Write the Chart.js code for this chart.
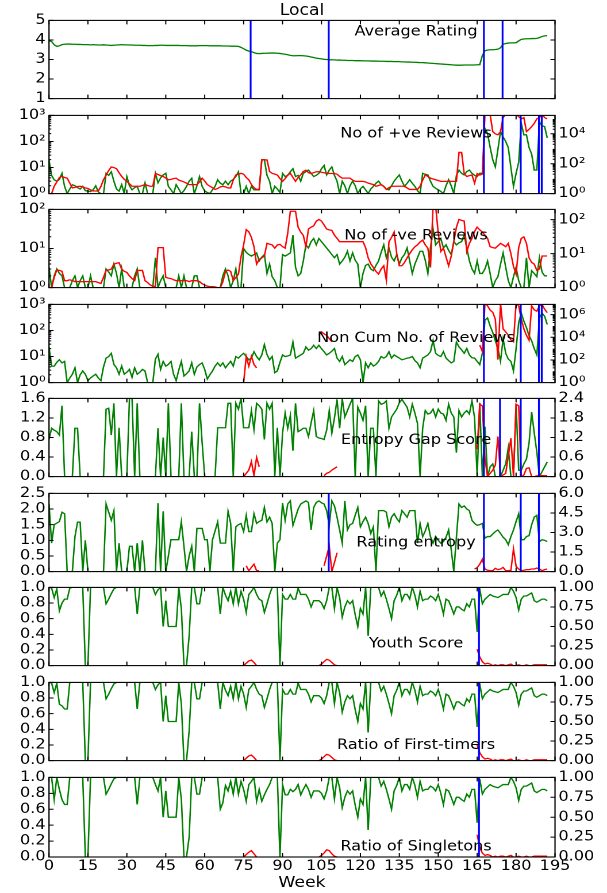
<!DOCTYPE html>
<html>
<head>
<meta charset="utf-8">
<script src="https://cdn.jsdelivr.net/npm/chart.js@4.4.1/dist/chart.umd.min.js"></script>
<style>
  body { margin: 0; background: #fff; width: 607px; height: 893px; overflow: hidden; }
  #fig { position: absolute; left: 0; top: 0; width: 528px; height: 893px;
         transform: scaleX(1.149621); transform-origin: 0 0; font-family: "DejaVu Sans"; }
  #fig canvas { position: absolute; left: 0; }
  #title { position: absolute; left: 42.6px; width: 440.2px; top: 3px; text-align: center;
           font-size: 15px; line-height: 15px; color: #000; }
</style>
</head>
<body>
<div id="fig"><div id="title">Local</div></div>
<script>
// ---- data (one value per week, 0..192) ----
const weeks = Array.from({length: 193}, (_, i) => i);
const weekTicks = [0, 15, 30, 45, 60, 75, 90, 105, 120, 135, 150, 165, 180, 195];

const avgRating = [
  3.96, 3.92, 3.75, 3.67, 3.70, 3.76, 3.78, 3.79, 3.79, 3.78,
  3.78, 3.77, 3.77, 3.76, 3.76, 3.76, 3.75, 3.76, 3.75, 3.74,
  3.74, 3.75, 3.74, 3.73, 3.72, 3.73, 3.74, 3.75, 3.76, 3.75,
  3.75, 3.74, 3.74, 3.73, 3.73, 3.73, 3.72, 3.72, 3.71, 3.71,
  3.71, 3.72, 3.72, 3.73, 3.73, 3.72, 3.72, 3.72, 3.72, 3.72,
  3.72, 3.71, 3.71, 3.71, 3.70, 3.70, 3.70, 3.70, 3.71, 3.71,
  3.71, 3.71, 3.70, 3.70, 3.70, 3.70, 3.70, 3.69, 3.69, 3.69,
  3.68, 3.68, 3.68, 3.67, 3.62, 3.55, 3.48, 3.43, 3.40, 3.35,
  3.31, 3.30, 3.31, 3.32, 3.32, 3.33, 3.33, 3.33, 3.32, 3.31,
  3.29, 3.27, 3.24, 3.21, 3.19, 3.19, 3.20, 3.20, 3.19, 3.18,
  3.16, 3.13, 3.10, 3.07, 3.05, 3.03, 3.01, 3.00, 2.99, 2.98,
  2.98, 2.97, 2.97, 2.96, 2.96, 2.95, 2.95, 2.95, 2.94, 2.94,
  2.94, 2.93, 2.93, 2.93, 2.92, 2.92, 2.92, 2.91, 2.91, 2.91,
  2.90, 2.90, 2.90, 2.89, 2.89, 2.89, 2.88, 2.88, 2.87, 2.87,
  2.86, 2.86, 2.85, 2.84, 2.84, 2.83, 2.82, 2.81, 2.80, 2.79,
  2.78, 2.77, 2.76, 2.75, 2.74, 2.73, 2.72, 2.71, 2.71, 2.71,
  2.72, 2.72, 2.72, 2.72, 2.72, 2.73, 2.73, 3.20, 3.45, 3.48,
  3.50, 3.50, 3.51, 3.53, 3.60, 3.78, 3.82, 3.84, 3.85, 3.85,
  3.86, 3.95, 4.03, 4.05, 4.06, 4.06, 4.07, 4.07, 4.08, 4.12,
  4.18, 4.21, 4.22
];

const posGreen = [
  19, 5, 3.4, 3, 3.5, 6, 1.9, 1, 1.5, 2.2,
  2, 1.7, 1.5, 1.9, 1.3, 1.25, 1.2, 1.4, 2, 1.15,
  1, 1, 6, 5, 6.9, 3, 1.5, 1.25, 2.2, 1,
  4.5, 2, 1.4, 1.7, 1.9, 1, 1, 2.6, 1, 1,
  1, 6, 2.6, 4, 5.2, 6, 1.9, 1.4, 1, 2.2,
  1.5, 1, 1.3, 1.9, 3, 3.9, 1, 2, 4.5, 1.9,
  1.25, 1.1, 1, 1.4, 1.9, 3.4, 2.5, 2.2, 3, 2.2,
  3, 3.5, 4.5, 6.9, 1, 1, 1.9, 1, 1.9, 1.4,
  1.4, 1.4, 20, 20, 5, 3, 1, 1.9, 1.5, 1.1,
  6, 4.5, 5, 6.9, 9, 4.5, 5, 3, 6, 7,
  8, 6, 4.5, 5, 6, 9, 12, 5.2, 8, 10.6,
  5, 3, 1, 3, 2, 1, 2, 3, 2, 1,
  1.5, 1.9, 1.4, 1, 1.5, 1.9, 2.5, 3, 2.2, 1.9,
  1.5, 1.4, 2, 3, 4, 5.2, 3, 1.9, 2.5, 3.4,
  2.5, 1.9, 1.3, 1, 6, 5.5, 5.2, 3, 1.9, 1.6,
  1.4, 1.2, 1, 2, 3.4, 2, 1, 5, 8, 6,
  5.2, 7, 8, 6, 5, 4.5, 6, 6, 320, 200,
  60, 20, 10.6, 50, 240, 150, 100, 58, 10, 1.9,
  6, 16, 490, 180, 180, 58, 33, 8, 8, 560,
  400, 370, 137
];
const posRed = [
  null, 1, 3.1, 6, 12, 14, 12, 10.8, 5, 2.4,
  2.6, 3, 3.1, 2.8, 2.4, 2.2, 1.8, 1.5, 1.5, 1.5,
  3, 8.4, 17.6, 35, 61, 55, 47, 25, 14, 9,
  6.6, 4.5, 3.1, 3.1, 3.1, 3.1, 3.5, 4, 3.5, 3.1,
  3.1, 22.6, 19, 16, 14, 11, 8.4, 9, 10, 10.8,
  8, 7, 6, 5, 4, 4, 4, 4, 6, 10.8,
  7, 4, 3.1, 2.5, 1.9, 2.2, 2.8, 3.1, 2.8, 2.4,
  2.4, 8, 17.6, 20, 22.6, 20, 12, 8.4, 4, 2.5,
  1.9, 1.9, 180, 180, 180, 30, 22.6, 20, 17.6, 10,
  6.6, 10, 17.6, 22.6, 12, 6.6, 12, 17.6, 30, 37,
  25, 22, 25, 29, 29, 27, 25, 22, 22, 22,
  22, 20, 14, 10.8, 10.8, 10.8, 10.8, 8, 6.6, 6.6,
  6.6, 6.6, 6, 5, 4.5, 4, 3.1, 3.5, 4, 3,
  1.9, 2.5, 3.1, 3.1, 3.1, 3.1, 3.1, 3.1, 2.4, 1.9,
  1.9, 1.9, 1.9, 3.1, 8, 17.6, 14, 10.8, 9.5, 8.4,
  7.5, 6.6, 6.6, 6.6, 6.6, 6.6, 6.6, 6.6, 565, 565,
  22, 14, 16, 17.6, 5, 22, 17.6, 20, 2e5, 2e5,
  2e5, 1.4e4, 1e4, 8500, 1.4e4, 1.2e5, 2e5, 2e5, 2e5, 2e5,
  2e5, 1.4e5, 1e5, 1.2e5, 1.4e4, 2e4, 3e4, 5e4, 1e5, 1.2e5,
  2e5, 1.2e5, 1e5
];

const negGreen = [
  3.3, 1, 2, 3, 2.3, 2, 1, 1, 1, 1.5,
  2, 1, 1.5, 2, 1, 1, 2, 1, 1, 1,
  1, 1, 3, 2.5, 2, 4, 2.3, 1, 3, 1,
  1, 1, 1, 2, 3, 1, 1, 1, 1, 1,
  1, 5.8, 1, 1.5, 2, 1, 1, 1, 1, 1,
  2, 1, 2, 1, 1, 1, 2, 2, 1, 1,
  1, 1, 1, 1, 1, 1, 1, 2, 3, 2,
  1, 1.5, 3, 1, 1, 10, 8, 7, 6.4, 7,
  7.7, 4.8, 6, 7, 2.3, 4, 1.9, 1.5, 1, 1,
  7, 6.4, 7, 7.7, 22, 3.3, 2, 2.3, 4.8, 12.4,
  10.3, 15, 18, 12.4, 18, 15, 12.4, 10.3, 8.5, 7,
  5.8, 7, 4, 4.8, 6, 8.5, 4.8, 7.7, 5, 4,
  1, 2.3, 3.7, 4, 3, 2.7, 3.7, 4.8, 8, 12.4,
  5.8, 10.3, 6, 4.8, 7, 4, 5.8, 7, 10.3, 4.8,
  2.3, 4, 5.8, 8.5, 8.5, 5, 2.3, 10.3, 32, 12.4,
  15, 18, 10.3, 12.4, 9, 7, 15, 12.4, 14, 15,
  22, 10.3, 4.8, 3, 2.3, 4.8, 2.3, 2.3, 3, 4.8,
  2.3, 1, 1.5, 1.9, 4, 7.7, 3.3, 1.5, 1, 1.9,
  3.3, 1.5, 1, 1, 5.8, 1, 2.7, 2.3, 1.9, 5.8,
  2.5, 2, 2
];
const negRed = [
  null, 1, 2, 3.3, 3.2, 3, 1.6, 1.6, 1.7, 1.6,
  1.5, 1.5, 1.5, 1.5, 1.5, 1.5, 1.5, 1.5, 1.5, 1.4,
  1.33, 2, 3.3, 3.3, 3.5, 4.9, 5.2, 5.4, 3.5, 3,
  2.8, 2.2, 1.84, 1.6, 3.2, 3.2, 3.2, 1.6, 1.4, 1.2,
  1.1, 1.07, 15, 15, 15, 2, 1.9, 1.84, 1.7, 1.6,
  1.6, 1.6, 1.6, 1.6, 1.5, 1.6, 1.6, 1.6, 1.5, 1.3,
  1.19, 1.1, 1.07, 1.07, 1.05, 1, 1, 1.48, 3, 3.3,
  3, 1.6, 2, 2.5, 8, 18, 51, 44, 30, 16,
  4.9, 6.8, 7.5, 8.4, 20, 19, 18, 14.5, 18, 18.8,
  16, 14.5, 40, 176, 176, 176, 60, 43, 34.5, 16,
  53, 60, 66, 90, 101, 91, 70, 53, 50, 48,
  35, 28, 22.4, 22.4, 22.4, 22.4, 22.4, 22.4, 22.4, 22.4,
  22.4, 22.4, 15, 7.5, 5, 3.9, 3, 2.5, 3.5, 4.4,
  1.65, 22.4, 30, 43, 10, 4.4, 4.4, 5.5, 7.5, 10,
  13, 16, 18, 22, 25, 18, 14.5, 3.9, 250, 250,
  40, 11.6, 14.5, 8, 4.4, 8.4, 22.4, 60, 101, 95,
  91, 11.6, 20, 28, 45, 60, 50, 43, 35, 28,
  16, 15, 14.5, 17, 20, 18, 16, 20, 10, 4.2,
  2.5, 15, 28, 31, 20, 7.5, 5.5, 4.9, 3.2, 3.5,
  8.5, 8.5, 8.5
];

const nonCumGreen = [
  23, 4.3, 4.3, 6, 7.5, 5.7, 6.5, 1, 1.5, 2.1,
  3.7, 1, 2, 2.8, 2.1, 1.19, 1.5, 1.8, 2.1, 1.5,
  1.19, 4, 8.7, 10, 13.3, 5, 3.7, 2.1, 4.3, 2.1,
  2.5, 3.2, 1.58, 3.7, 2.1, 2.5, 3.2, 2.8, 1, 1,
  1, 8, 12.2, 3.2, 6.5, 4.3, 5, 6.5, 2.1, 1.19,
  3, 6.5, 1.8, 2.2, 2.8, 5.7, 2.1, 4, 4.9, 5.7,
  3.2, 1.37, 2, 2.8, 4.3, 5.7, 4.3, 5.7, 3.7, 5,
  6.5, 4.3, 10, 8.7, 11, 13.3, 10, 7.5, 8.7, 15.3,
  10, 7.5, 11.5, 28.6, 12, 7.5, 10, 2.4, 2.8, 6,
  11.5, 10, 10.5, 11.5, 35.8, 8.7, 10, 11.5, 13.3, 23.4,
  17.6, 20, 27, 20.3, 27, 20, 15.3, 11.5, 13.3, 16,
  20.3, 8.7, 6.5, 10, 4.9, 6, 7.5, 6.5, 10, 11.5,
  7.5, 1, 5.7, 3.7, 5.7, 4.3, 5, 6.5, 10, 8.7,
  10, 15.3, 8.7, 11.5, 10, 8.7, 7.5, 8, 8.7, 9,
  10, 7, 5.7, 3.7, 8.7, 10, 11.5, 15.3, 41.4, 13.3,
  11, 10, 15.3, 8.7, 7, 5.7, 6.5, 35.8, 23.4, 18,
  13.3, 20.3, 11.5, 9, 8.7, 6.5, 4.9, 13.3, 250, 303,
  149, 84, 40, 20.3, 6.5, 47.6, 13.3, 8, 6.5, 2.8,
  20.3, 200, 464, 228, 129, 63, 40, 20, 11.5, 300,
  464, 350, 170
];
// red series that only exist in stretches: [first week, values]
const nonCumRed = [
  [75, [1, 205, 28.6, 205, 40, 20]],
  [104, [1.5e4, 3e4, 2e4, 1.5e4, 7700, 4000]],
  [166, [2050, 550, 1e7, 6e6, 2.5e6, 1.6e6, 4e5, 107, 1e7, 5.5e4,
         3e4, 1.5e4, 6000, 4000, 1e7, 6e6, 4e5, 5.5e4, 1.5e4, 5500,
         6e6, 2.6e6, 2e6, 6e6, 8e6, 3e6, 1.5e6]]
];

const gapGreen = [
  0.76, 0.99, 0.95, 0.92, 0.85, 1.45, 0, 0, 0, 0,
  0.99, 0.99, 0, 0, 0, 0, 0, 0, 0, 0,
  0, 0, 1.38, 1.4, 0.85, 1.5, 0, 1.0, 0, 0,
  0, 1.6, 1.6, 0, 1.5, 0, 0, 0, 0, 0,
  0, 0, 0.99, 0, 0.8, 0, 1.5, 0, 0, 0,
  0, 1.5, 0, 0, 0, 0.92, 0, 0, 1.5, 0.7,
  0, 0, 0, 0, 0, 1.0, 1.0, 1.0, 1.0, 1.5,
  1.5, 0, 1.5, 1.38, 1.6, 1.0, 1.0, 1.0, 1.35, 0.96,
  1.5, 1.45, 1.38, 0.76, 1.5, 1.38, 1.5, 0, 1.0, 0,
  0.89, 1.3, 0.99, 1.25, 0.53, 1.5, 0.92, 0.95, 0.99, 0.99,
  0.82, 1.1, 1.35, 0.82, 0.79, 0.78, 0.76, 0.95, 1.35, 0.89,
  1.2, 1.58, 0.99, 1.6, 1.22, 1.35, 1.48, 1.6, 0, 1.42,
  1.3, 1.15, 1.45, 0, 0.99, 0.99, 0, 1.55, 1.48, 1.5,
  1.55, 0.99, 1.22, 1.3, 1.38, 1.51, 1.58, 1.5, 1.42, 1.22,
  1.48, 1.3, 1.09, 0, 0.99, 1.35, 1.28, 1.3, 1.38, 1.22,
  1.38, 1.3, 1.28, 1.15, 1.48, 1.3, 1.22, 0.49, 1.35, 1.22,
  1.3, 1.35, 1.28, 1.55, 1.2, 0, 1.51, 0, 1.02, 0,
  0.2, 0.26, 0, 0, 0, 0.13, 0.26, 0.59, 0, 0,
  1.48, 0.13, 0.13, 0.26, 0.36, 0.69, 1.32, 0.89, 0.5, 0,
  0.1, 0.2, 0.3
];
const gapRed = [
  [75, [0, 0.1, 0.2, 0.46, 0.03, 0.59, 0.3]],
  [106, [0.03, 0.1, 0.13, 0.2, 0.25, 0.3]],
  [165, [0.84, 2.22, 2.17, 0.54, 0, 0.1, 0.2, 0.35, 1.23, 0,
         0.05, 0.1, 0.64, 1.18, 0, 2.22, 2.17, 0, 0.05, 0.25,
         0.27, 0, 0, 0.02, 0.03, 0.03, 0.03, 0.03]]
];

const entGreen = [
  2.16, 0.91, 1.5, 1.55, 1.6, 1.9, 1.85, 0, 0, 0,
  1.12, 1.58, 1.58, 0, 1.0, 0, 0, 0, 0, 0,
  0, 0, 2.16, 1.9, 1.64, 1.95, 0, 0.91, 0, 0,
  0, 0.81, 0.81, 0, 0.91, 0, 1.0, 0, 0, 0,
  0, 0, 2.19, 0, 1.93, 0, 0.5, 1.02, 1.02, 1.02,
  1.02, 1.59, 0.81, 0, 0.5, 0.81, 0, 1.38, 1.38, 1.38,
  1.02, 1.02, 0, 1.02, 1.3, 1.59, 0.91, 0.91, 0.91, 1.93,
  1.54, 0, 1.43, 1.5, 1.54, 1.28, 1.8, 1.28, 1.28, 1.85,
  1.54, 1.6, 1.64, 2.05, 1.59, 1.74, 1.54, 0, 0.91, 1.02,
  2.19, 1.64, 2.16, 2.26, 1.48, 1.74, 2.0, 2.16, 2.21, 2.26,
  2.21, 1.33, 2.05, 2.21, 2.26, 2.2, 2.16, 1.95, 1.48, 2.26,
  2.1, 1.74, 1.33, 0.91, 2.26, 1.33, 1.5, 1.54, 1.8, 2.05,
  1.43, 1.6, 1.74, 1.54, 1.22, 1.43, 0, 1.95, 1.95, 1.95,
  1.9, 1.43, 1.74, 1.85, 1.7, 1.59, 1.95, 1.85, 1.74, 1.95,
  1.95, 1.95, 0.91, 1.54, 1.12, 1.3, 1.54, 1.12, 0.91, 1.12,
  1.0, 0.91, 0.96, 1.1, 1.33, 0.7, 0, 1.1, 2.16, 2.05,
  2.1, 2.0, 1.95, 1.64, 1.54, 1.48, 1.5, 1.54, 1.07, 1.12,
  1.12, 1.2, 1.28, 1.33, 1.22, 1.1, 1.02, 0.86, 1.12, 1.33,
  1.6, 1.85, 1.02, 1.02, 1.12, 1.15, 1.5, 1.74, 1.8, 0.96,
  1.02, 1.0, 0.96
];
const entRed = [
  [76, [0.45, 0.07, 0.32, 0.57, 0.07, 0.07]],
  [106, [0.45, 1.2, 1.94, 0, 0.7, 1.44]],
  [164, [0.2, 0.3, 0.57, 0.95, 0.2, 0.1, 0.07, 0.07, 0.25, 0.15,
         0.2, 0.32, 0.07, 0.07, 0.1, 1.74, 0.4, 0.2, 0.07, 0.1,
         0.15, 0.15, 0.2, 0.2, 0.27, 0.2, 0.07, 0.15, 0.2]]
];

const youthGreen = [
  1.0, 0.99, 0.87, 0.98, 0.7, 0.8, 0.85, 0.85, 0.99, 1.0,
  1.0, 1.0, 1.0, 1.0, 0, 0, 1.0, 1.0, 1.0, 1.0,
  1.0, 1.0, 0.79, 0.85, 0.92, 0.98, 1.0, 1.0, 1.0, 1.0,
  1.0, 1.0, 1.0, 1.0, 0.66, 1.0, 1.0, 1.0, 1.0, 1.0,
  1.0, 0.91, 0.97, 1.0, 0.5, 0.83, 0.5, 0.5, 0.5, 0.5,
  1.0, 0.73, 0, 0, 0.38, 1.0, 1.0, 0.79, 0.79, 1.0,
  1.0, 1.0, 1.0, 1.0, 1.0, 1.0, 0.66, 1.0, 0.9, 0.83,
  0.95, 0.79, 1.0, 0.79, 0.95, 0.85, 0.68, 0.91, 0.95, 1.0,
  0.91, 0.85, 0.83, 0.68, 0.79, 0.91, 1.0, 1.0, 1.0, 0,
  0.91, 0.85, 0.85, 0.91, 0.85, 0.85, 0.99, 0.91, 0.91, 0.91,
  0.85, 0.75, 0.83, 0.83, 0.83, 0.8, 0.73, 0.83, 1.0, 1.0,
  0.73, 1.0, 0.87, 0.62, 0.75, 0.83, 0.79, 0.83, 0.65, 0.5,
  0.73, 0.66, 1.0, 0.38, 1.0, 1.0, 1.0, 1.0, 0.89, 0.95,
  0.85, 0.73, 0.6, 0.83, 0.9, 1.0, 0.83, 0.91, 0.91, 0.85,
  1.0, 0.9, 0.75, 0.95, 0.83, 0.85, 0.85, 0.89, 0.87, 0.83,
  0.91, 0.8, 0.66, 0.85, 0.83, 0.75, 0.66, 0.75, 0.75, 0.72,
  0.7, 0.79, 0.75, 0.85, 0.85, 0.43, 0.98, 0.79, 0.85, 0.88,
  0.91, 0.89, 0.88, 0.87, 0.89, 0.91, 0.91, 0.91, 1.0, 0.95,
  0.87, 0.71, 0.85, 0.89, 0.89, 0.91, 0.93, 0.83, 0.81, 0.83,
  0.85, 0.85, 0.83
];
const youthRed = [
  [75, [0, 0.03, 0.06, 0.07, 0.04, 0]],
  [104, [0, 0.02, 0.05, 0.08, 0.07, 0.04, 0.01, 0]],
  [165, [0.21, 0.11, 0.05, 0.02, 0.03, 0.02, 0, 0.01, 0, 0.01,
         0.01, 0, 0.01, 0.02, 0, 0, 0.01, 0, 0, 0.01,
         0, 0, 0.01, 0.01, 0.01, 0.01, 0.01, 0.01]]
];

const firstGreen = [
  1.0, 0.99, 0.87, 0.99, 0.72, 0.7, 0.66, 0.66, 1.0, 1.0,
  1.0, 1.0, 1.0, 1.0, 0, 0, 1.0, 1.0, 1.0, 1.0,
  1.0, 1.0, 0.79, 0.85, 0.92, 0.98, 1.0, 1.0, 1.0, 1.0,
  1.0, 1.0, 1.0, 1.0, 0.66, 1.0, 1.0, 1.0, 1.0, 1.0,
  1.0, 0.91, 0.97, 1.0, 0.5, 0.83, 0.5, 0.5, 0.5, 0.5,
  1.0, 0.73, 0, 0, 0.38, 1.0, 1.0, 0.79, 0.79, 1.0,
  1.0, 1.0, 1.0, 1.0, 1.0, 1.0, 0.66, 1.0, 0.9, 0.83,
  0.95, 0.79, 1.0, 0.79, 0.95, 0.85, 0.68, 0.91, 0.95, 1.0,
  0.91, 0.85, 0.83, 0.68, 0.79, 0.91, 1.0, 1.0, 1.0, 0,
  0.91, 0.85, 0.85, 0.91, 0.85, 0.85, 0.99, 0.91, 0.91, 0.91,
  0.85, 0.75, 0.83, 0.83, 0.83, 0.8, 0.73, 0.83, 1.0, 1.0,
  0.73, 1.0, 0.87, 0.62, 0.75, 0.83, 0.79, 0.83, 0.65, 0.5,
  0.73, 0.66, 1.0, 0.36, 1.0, 1.0, 1.0, 1.0, 0.89, 0.95,
  0.85, 0.73, 0.6, 0.83, 0.9, 1.0, 0.83, 0.91, 0.91, 0.85,
  1.0, 0.9, 0.75, 0.95, 0.83, 0.85, 0.85, 0.89, 0.87, 0.83,
  0.91, 0.8, 0.66, 0.85, 0.83, 0.75, 0.66, 0.75, 0.75, 0.72,
  0.7, 0.79, 0.75, 0.85, 0.85, 0.43, 0.98, 0.79, 0.85, 0.88,
  0.91, 0.89, 0.88, 0.87, 0.89, 0.91, 0.91, 0.91, 1.0, 0.95,
  0.87, 0.71, 0.85, 0.89, 0.89, 0.91, 0.93, 0.83, 0.81, 0.83,
  0.85, 0.85, 0.83
];
const firstRed = [
  [75, [0, 0.03, 0.06, 0.07, 0.04, 0]],
  [104, [0, 0.02, 0.05, 0.08, 0.07, 0.04, 0.01, 0]],
  [165, [0.2, 0.1, 0.05, 0.02, 0.03, 0.02, 0, 0.01, 0, 0.01,
         0.01, 0, 0.01, 0.02, 0, 0, 0.01, 0, 0, 0.01,
         0, 0, 0.01, 0.01, 0.01, 0.01, 0.01, 0.01]]
];

const singleGreen = [
  1.0, 1.0, 0.72, 1.0, 0.85, 0.72, 0.66, 0.66, 1.0, 1.0,
  1.0, 1.0, 1.0, 1.0, 0, 0, 1.0, 1.0, 1.0, 1.0,
  1.0, 1.0, 0.79, 0.85, 0.92, 0.98, 1.0, 1.0, 1.0, 1.0,
  1.0, 1.0, 1.0, 1.0, 0.66, 1.0, 1.0, 1.0, 1.0, 1.0,
  1.0, 0.91, 0.83, 1.0, 0.5, 0.83, 0.5, 0.5, 0.5, 0.5,
  1.0, 0.73, 0, 0, 0.25, 1.0, 1.0, 0.79, 0.79, 1.0,
  1.0, 1.0, 1.0, 1.0, 1.0, 1.0, 0.6, 0.68, 0.9, 0.83,
  0.95, 0.79, 1.0, 0.79, 0.95, 0.85, 0.7, 0.91, 0.95, 1.0,
  0.7, 0.85, 0.7, 0.78, 0.85, 0.91, 1.0, 1.0, 1.0, 0,
  0.91, 0.78, 0.78, 0.85, 0.82, 0.85, 0.91, 0.78, 0.85, 0.91,
  0.85, 0.75, 0.83, 0.83, 0.83, 0.8, 0.73, 0.83, 1.0, 1.0,
  0.73, 1.0, 0.87, 0.62, 0.75, 0.83, 0.79, 0.83, 0.65, 0.5,
  0.73, 0.66, 1.0, 0.34, 1.0, 1.0, 1.0, 1.0, 0.89, 0.95,
  0.85, 0.73, 0.6, 0.83, 0.9, 1.0, 0.83, 0.91, 0.91, 0.85,
  1.0, 0.9, 0.75, 0.95, 0.83, 0.85, 0.85, 0.89, 0.87, 0.83,
  0.91, 0.8, 0.66, 0.85, 0.83, 0.75, 0.66, 0.75, 0.75, 0.72,
  0.7, 0.79, 0.75, 0.85, 0.85, 0.43, 0.98, 0.79, 0.85, 0.88,
  0.91, 0.89, 0.88, 0.87, 0.89, 0.91, 0.91, 0.91, 1.0, 0.95,
  0.87, 0.71, 0.85, 0.89, 0.89, 0.91, 0.93, 0.83, 0.81, 0.83,
  0.85, 0.85, 0.83
];
const singleRed = [
  [75, [0, 0.03, 0.06, 0.08, 0.04, 0]],
  [104, [0, 0.02, 0.05, 0.09, 0.08, 0.04, 0.01, 0]],
  [165, [0.28, 0.12, 0.05, 0.02, 0.03, 0.02, 0, 0.01, 0, 0.01,
         0.01, 0, 0.01, 0.02, 0, 0, 0.01, 0, 0, 0.01,
         0, 0, 0.01, 0.01, 0.01, 0.01, 0.01, 0.01]]
];

// weeks marked with vertical blue lines
const ratingMarks = [77.7, 107.8, 167.6, 174.8];
const posMarks = [167.6, 174.8, 181.8, 188.8, 189.9];
const negMarks = [];
const nonCumMarks = [167.6, 181.8, 188.8, 189.9];
const gapMarks = [167.6, 173.8, 181.8, 188.8];
const entMarks = [107.8, 167.6, 181.8, 188.8];
const youthMarks = [165.7];
const firstMarks = [165.7];
const singleMarks = [165.7];

// ---- layout ----
const SX = 607 / 528;
const AX_LEFT = 49 / SX;
const AX_RIGHT = 52 / SX;
const panelTops = [19, 114, 208, 303, 397, 492, 586, 681, 776];
const SUP = ['\u2070', '\u00b9', '\u00b2', '\u00b3', '\u2074', '\u2075', '\u2076'];

Chart.defaults.font.family = '"DejaVu Sans"';
Chart.defaults.color = '#000';

function fromSegments(segs) {
  const out = weeks.map(() => null);
  segs.forEach(([start, vals]) => vals.forEach((v, k) => { out[start + k] = v; }));
  return out;
}

const panels = [
  {label: 'Average Rating', base: 15.2, green: avgRating, red: null, marks: ratingMarks,
   y: {type: 'linear', min: 1, max: 5, step: 1, dp: 0}, y2: null},
  {label: 'No of +ve Reviews', base: 22, green: posGreen, red: posRed, marks: posMarks,
   y: {type: 'logarithmic', min: 1, max: 1000, decades: [0, 1, 2, 3]},
   y2: {type: 'logarithmic', min: 1, max: 1.7e5, decades: [0, 2, 4]}},
  {label: 'No of -ve Reviews', base: 30.3, green: negGreen, red: negRed, marks: negMarks,
   y: {type: 'logarithmic', min: 1, max: 100, decades: [0, 1, 2]},
   y2: {type: 'logarithmic', min: 1, max: 200, decades: [0, 1, 2]}},
  {label: 'Non Cum No. of Reviews', base: 37.7, green: nonCumGreen, red: fromSegments(nonCumRed), marks: nonCumMarks,
   y: {type: 'logarithmic', min: 1, max: 1000, decades: [0, 1, 2, 3]},
   y2: {type: 'logarithmic', min: 1, max: 8e6, decades: [0, 2, 4, 6]}},
  {label: 'Entropy Gap Score', base: 45.7, green: gapGreen, red: fromSegments(gapRed), marks: gapMarks,
   y: {type: 'linear', min: 0, max: 1.6, step: 0.4, dp: 1},
   y2: {type: 'linear', min: 0, max: 2.4, step: 0.6, dp: 1}},
  {label: 'Rating entropy', base: 53, green: entGreen, red: fromSegments(entRed), marks: entMarks,
   y: {type: 'linear', min: 0, max: 2.5, step: 0.5, dp: 1},
   y2: {type: 'linear', min: 0, max: 6, step: 1.5, dp: 1}},
  {label: 'Youth Score', base: 60, green: youthGreen, red: fromSegments(youthRed), marks: youthMarks,
   y: {type: 'linear', min: 0, max: 1, step: 0.2, dp: 1},
   y2: {type: 'linear', min: 0, max: 1, step: 0.25, dp: 2}},
  {label: 'Ratio of First-timers', base: 66.7, green: firstGreen, red: fromSegments(firstRed), marks: firstMarks,
   y: {type: 'linear', min: 0, max: 1, step: 0.2, dp: 1},
   y2: {type: 'linear', min: 0, max: 1, step: 0.25, dp: 2}},
  {label: 'Ratio of Singletons', base: 73.3, green: singleGreen, red: fromSegments(singleRed), marks: singleMarks,
   y: {type: 'linear', min: 0, max: 1, step: 0.2, dp: 1},
   y2: {type: 'linear', min: 0, max: 1, step: 0.25, dp: 2}}
];

// frame, inward ticks (matplotlib look) and the in-plot caption
const framePlugin = {
  id: 'frame',
  afterDatasetsDraw(chart, args, o) {
    const {ctx, chartArea: a, scales} = chart;
    const yl = scales.y, yr = scales.y2 || scales.y;
    ctx.save();
    ctx.strokeStyle = '#000';
    ctx.lineWidth = 1;
    ctx.beginPath();
    weekTicks.forEach(v => {
      const px = scales.x.getPixelForValue(v);
      ctx.moveTo(px, a.bottom); ctx.lineTo(px, a.bottom - 4);
      ctx.moveTo(px, a.top); ctx.lineTo(px, a.top + 4);
    });
    yl.ticks.forEach(t => {
      const py = yl.getPixelForValue(t.value);
      ctx.moveTo(a.left, py); ctx.lineTo(a.left + 4, py);
    });
    yr.ticks.forEach(t => {
      const py = yr.getPixelForValue(t.value);
      ctx.moveTo(a.right, py); ctx.lineTo(a.right - 4, py);
    });
    [[yl, a.left, 1], [yr, a.right, -1]].forEach(([s, x0, dir]) => {
      if (s.type !== 'logarithmic') return;
      for (let d = 0; d < 8; d++) {
        for (let k = 2; k < 10; k++) {
          const v = k * Math.pow(10, d);
          if (v >= s.max) continue;
          const py = s.getPixelForValue(v);
          ctx.moveTo(x0, py); ctx.lineTo(x0 + dir * 2, py);
        }
      }
    });
    ctx.stroke();
    ctx.lineWidth = 1.1;
    ctx.strokeRect(a.left, a.top, a.right - a.left, a.bottom - a.top);
    ctx.fillStyle = '#000';
    ctx.font = '14px "DejaVu Sans"';
    ctx.textAlign = 'center';
    ctx.textBaseline = 'alphabetic';
    ctx.fillText(o.label, a.left + 0.7254 * (a.right - a.left), a.top + o.base);
    ctx.restore();
  }
};

function axisCfg(a, pos) {
  const c = {
    type: a.type, position: pos, min: a.min, max: a.max,
    grid: {display: false, drawTicks: false},
    border: {display: false},
    afterFit: s => { s.width = pos === 'left' ? AX_LEFT : AX_RIGHT; },
    ticks: {padding: 3, font: {size: 14}, color: '#000', autoSkip: false}
  };
  if (a.type === 'logarithmic') {
    c.afterBuildTicks = s => { s.ticks = a.decades.map(d => ({value: Math.pow(10, d)})); };
    c.ticks.callback = v => '10' + SUP[Math.round(Math.log10(v))];
  } else {
    c.ticks.stepSize = a.step;
    c.ticks.callback = v => Number(v).toFixed(a.dp);
  }
  return c;
}

const fig = document.getElementById('fig');
panels.forEach((p, i) => {
  const last = i === panels.length - 1;
  const cv = document.createElement('canvas');
  cv.width = 528;
  cv.height = last ? 127 : 101;
  cv.style.top = (panelTops[i] - 10) + 'px';
  fig.appendChild(cv);

  const datasets = [{
    data: weeks.map((w, k) => ({x: w, y: p.green[k]})),
    borderColor: '#008000', borderWidth: 1.3, pointRadius: 0, tension: 0,
    yAxisID: 'y', order: 2
  }];
  if (p.red) {
    datasets.push({
      data: weeks.map((w, k) => ({x: w, y: p.red[k]})),
      borderColor: '#ff0000', borderWidth: 1.3, pointRadius: 0, tension: 0,
      yAxisID: p.y2 ? 'y2' : 'y', order: 1
    });
  }
  p.marks.forEach(m => {
    datasets.push({
      data: [{x: m, y: p.y.min}, {x: m, y: p.y.max}],
      borderColor: '#0000ff', borderWidth: 1.6, pointRadius: 0,
      yAxisID: 'y', order: 0
    });
  });

  const scales = {
    x: {
      type: 'linear', min: 0, max: 195, display: last,
      grid: {display: false, drawTicks: false}, border: {display: false},
      afterBuildTicks: s => { s.ticks = weekTicks.map(v => ({value: v})); },
      afterFit: s => { if (last) s.height = 35; },
      ticks: {padding: 1, font: {size: 14}, color: '#000', autoSkip: false, maxRotation: 0,
              callback: v => String(v)},
      title: {display: true, text: 'Week', font: {size: 15}, color: '#000', padding: {top: 0, bottom: 0}}
    },
    y: axisCfg(p.y, 'left')
  };
  if (p.y2) scales.y2 = axisCfg(p.y2, 'right');

  new Chart(cv, {
    type: 'line',
    data: {datasets},
    options: {
      responsive: false,
      devicePixelRatio: 2,
      animation: false,
      events: [],
      layout: {padding: {top: 10, bottom: last ? 1 : 10, left: 0, right: p.y2 ? 0 : AX_RIGHT}},
      plugins: {
        legend: {display: false},
        tooltip: {enabled: false},
        frame: {label: p.label, base: p.base}
      },
      scales
    },
    plugins: [framePlugin]
  });
});
</script>
</body>
</html>
